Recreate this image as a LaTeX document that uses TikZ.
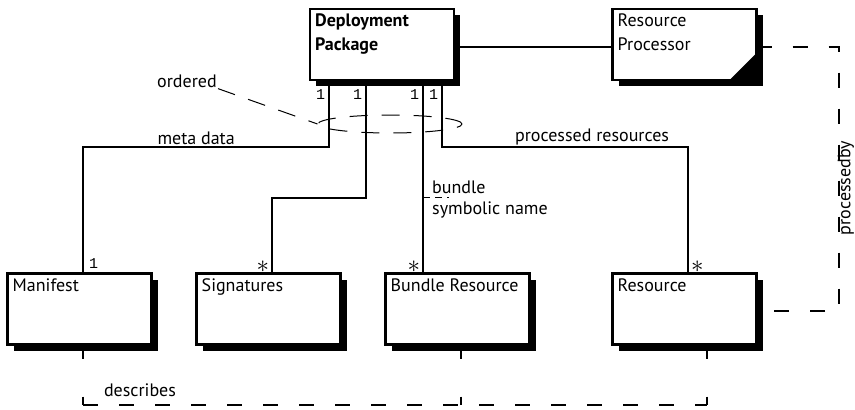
\documentclass[tikz,border=0pt]{standalone}
\usepackage{fontspec}
\setmainfont{PT Sans}
\newfontfamily\multfont{Liberation Mono}
\newcommand\lblsize{\fontsize{18}{24}\selectfont}
\usetikzlibrary{positioning,shapes.geometric,shadows}

\begin{document}
\begin{tikzpicture}[x=1pt,y=-1pt,
    cls/.style={draw,line width=2.2pt,fill=white,minimum width=144pt,minimum height=71pt,
      outer sep=0pt,inner sep=0pt,
      drop shadow={shadow xshift=6pt,shadow yshift=-6pt,opacity=1,fill=black},
      label={[anchor=north west,inner sep=5pt,align=left,font=\lblsize]north west:#1}},
    assoc/.style={line width=2pt},
    dep/.style={line width=2pt,dash pattern=on 15pt off 21pt},
    drop/.style={line width=2pt,dash pattern=on 14pt off 38pt},
    cons/.style={line width=1pt,dash pattern=on 18pt off 14pt},
    mult/.style={font=\multfont\fontsize{15}{15}\selectfont,inner sep=1pt},
    many/.style={font=\fontsize{24}{24}\selectfont,inner sep=0pt}
  ]
    \tikzset{lbl/.style={font=\lblsize,inner sep=1pt}}
    \useasboundingbox (0,0) rectangle (855,410);
    \node[cls={{\bfseries Deployment}\\{\bfseries Package}}] (dp) at (382,44.5) {};
    \node[cls={Resource\\Processor},right=158.5pt of dp] (rp) {};
    \fill ([xshift=-27pt]rp.south east) -- (rp.south east) -- ([yshift=27pt]rp.south east) -- cycle;
    \node[cls=Manifest] (manifest) at (79.5,309) {};
    \node[cls=Signatures,right=45pt of manifest] (signatures) {};
    \node[cls=Bundle Resource,right=45pt of signatures] (bundle) {};
    \node[cls=Resource,right=83pt of bundle] (resource) {};

    % ordered constraint
    \node[ellipse,draw,cons,minimum width=144pt,minimum height=18pt,inner sep=0pt] (ordgrp) at (390,124) {};
    \node[lbl] (ordered) at (187,81) {ordered};
    \draw[cons] (ordered.south east) -- (ordgrp.west);

    % associations
    \draw[assoc] ([yshift=-2pt]dp.east) -- ([yshift=-2pt]rp.west);
    \draw[assoc] ([xshift=-53pt]dp.south) node[mult,below left=8pt and 2pt]{1} -- ++(0,67)
      -| node[lbl,pos=0.27,above]{meta data} ([xshift=3.5pt]manifest.north) node[mult,above right=3pt and 4pt]{1};
    \draw[assoc] ([xshift=-16pt]dp.south) node[mult,below left=8pt and 2pt]{1} -- ++(0,118)
      -| ([xshift=3.5pt]signatures.north) node[many,above left=0pt and 2pt]{$\ast$};
    \draw[assoc] ([xshift=41pt]dp.south) node[mult,below left=8pt and 2pt]{1}
      -- coordinate[pos=0.606] (qual) ([xshift=-34.5pt]bundle.north) node[many,above left=0pt and 2pt]{$\ast$};
    \draw[assoc] ([xshift=60pt]dp.south) node[mult,below left=8pt and 2pt]{1} -- ++(0,67)
      -| node[lbl,pos=0.305,above]{processed resources} ([xshift=3.5pt]resource.north) node[many,above right=0pt and 2pt]{$\ast$};

    % qualifier
    \node[lbl,anchor=south west,inner sep=3pt,xshift=6pt] (bname) at (qual) {bundle};
    \node[lbl,anchor=north west,inner sep=4pt,xshift=5pt] (symname) at (qual) {symbolic name};
    \draw[line width=1.2pt,dash pattern=on 7pt off 5pt] (qual) -- ++(26,0);

    % dependencies
    \draw[dep] ([yshift=-2pt]rp.east) -- ++(82,0) |- ([yshift=-2pt]resource.east);
    \node[lbl,rotate=90] (procby) at (846,188) {processedby};
    \draw[drop] ([xshift=3.5pt]manifest.south) -- ++(0,60) coordinate (d1);
    \draw[drop] ([xshift=3.5pt]bundle.south) -- ++(0,60) coordinate (d2);
    \draw[drop] ([xshift=22.5pt]resource.south) -- ++(0,60) coordinate (d3);
    \draw[dep] (d1) -- (d3);
    \node[lbl] (describes) at (140,390) {describes};
\end{tikzpicture}
\end{document}
